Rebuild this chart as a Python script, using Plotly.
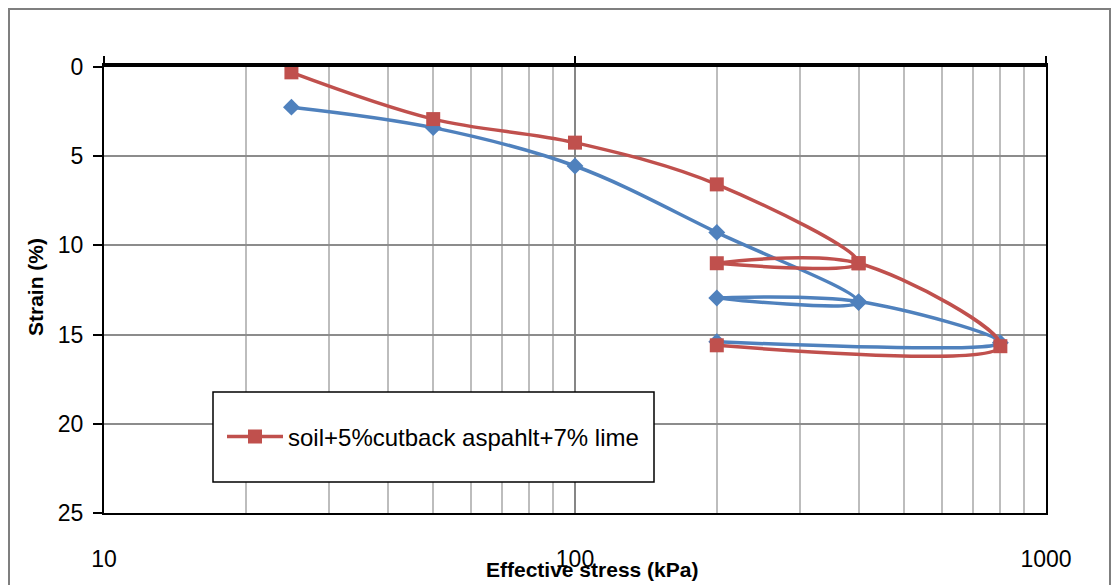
import plotly.graph_objects as go

# ---- data ----
stress = [25, 50, 100, 200, 400, 200, 400, 800, 200]
strain_blue = [2.25, 3.4, 5.55, 9.27, 13.2, 12.95, 13.15, 15.45, 15.4]
strain_red = [0.3, 2.92, 4.24, 6.58, 11.0, 11.0, 11.0, 15.65, 15.6]
red_name = "soil+5%cutback aspahlt+7% lime"
x_minor_ticks = [10, 20, 30, 40, 50, 60, 70, 80, 90, 100, 200, 300, 400, 500, 600, 700, 800, 900, 1000]
x_major_ticks = [10, 100, 1000]
y_ticks = [0, 5, 10, 15, 20, 25]

BLUE = "#4F81BD"
RED = "#C0504D"
FONT = "Liberation Sans, Arial, sans-serif"

fig = go.Figure()
# empty trace so that the top decorative axis (x2) is drawn
fig.add_trace(go.Scatter(x=[], y=[], xaxis="x2", yaxis="y", showlegend=False, hoverinfo="skip"))
fig.add_trace(go.Scatter(
    x=stress, y=strain_blue, mode="lines+markers", showlegend=False,
    line=dict(color=BLUE, width=3.5, shape="spline", smoothing=1),
    marker=dict(symbol="diamond", size=13, color=BLUE),
))
fig.add_trace(go.Scatter(
    x=stress, y=strain_red, mode="lines+markers", name=red_name,
    line=dict(color=RED, width=3.5, shape="spline", smoothing=1),
    marker=dict(symbol="square", size=14, color=RED),
))

OFF = 8  # browser body margin
W, H = 1119 - OFF, 585 - OFF
L, T = 104 - OFF, 67 - OFF
R = W - (1046 - OFF)
B = H - (513 - OFF)
pw, ph = W - L - R, H - T - B

def px(xs):
    return (xs - OFF - L) / pw

def py(ys):
    return (H - B - (ys - OFF)) / ph

fig.update_layout(
    width=W, height=H,
    margin=dict(l=L, r=R, t=T, b=B, autoexpand=False),
    paper_bgcolor="white", plot_bgcolor="white",
    font=dict(family=FONT, size=23, color="black"),
    xaxis=dict(
        type="log", range=[1, 3], automargin=False,
        tickvals=x_minor_ticks,
        ticktext=[str(v) if v in x_major_ticks else "" for v in x_minor_ticks],
        showgrid=True, gridcolor="#BDBDBD", gridwidth=2,
        showline=True, mirror=True, linecolor="black", linewidth=2,
        ticks="", ticklabelstandoff=24, zeroline=False,
        tickfont=dict(size=23, family=FONT),
    ),
    xaxis2=dict(
        type="log", range=[1, 3], overlaying="x", side="top", anchor="y",
        automargin=False,
        tickvals=x_major_ticks, showticklabels=False,
        showgrid=True, gridcolor="#868686", gridwidth=2,
        showline=True, linecolor="black", linewidth=4,
        ticks="outside", ticklen=7, tickwidth=2, tickcolor="black",
        zeroline=False,
    ),
    yaxis=dict(
        range=[25, 0], tickvals=y_ticks, automargin=False,
        showgrid=True, gridcolor="#8C8C8C", gridwidth=2,
        showline=True, mirror=True, linecolor="black", linewidth=2,
        ticks="outside", ticklen=9, tickwidth=2, tickcolor="black",
        ticklabelstandoff=5, zeroline=False,
        tickfont=dict(size=23, family=FONT),
    ),
    legend=dict(
        x=px(222), y=py(437), xanchor="left", yanchor="middle",
        bgcolor="rgba(0,0,0,0)", borderwidth=0,
        font=dict(size=24, family=FONT, color="black"),
        itemwidth=56,
    ),
    shapes=[
        dict(type="rect", xref="paper", yref="paper",
             x0=px(213), x1=px(654), y0=py(482), y1=py(392),
             line=dict(color="black", width=1.5), fillcolor="white", layer="above"),
        dict(type="rect", xref="paper", yref="paper",
             x0=px(9), x1=px(1110), y0=py(640), y1=py(9),
             line=dict(color="#7F7F7F", width=2), fillcolor="rgba(0,0,0,0)", layer="below"),
    ],
    annotations=[
        dict(text="<b>Effective stress (kPa)</b>", xref="paper", yref="paper",
             x=px(592), y=py(569), xanchor="center", yanchor="middle",
             showarrow=False, font=dict(size=21, family=FONT, color="black")),
        dict(text="<b>Strain (%)</b>", xref="paper", yref="paper",
             x=px(35), y=py(287), xanchor="center", yanchor="middle", textangle=-90,
             showarrow=False, font=dict(size=21, family=FONT, color="black")),
    ],
)

fig.write_html("out.html")
